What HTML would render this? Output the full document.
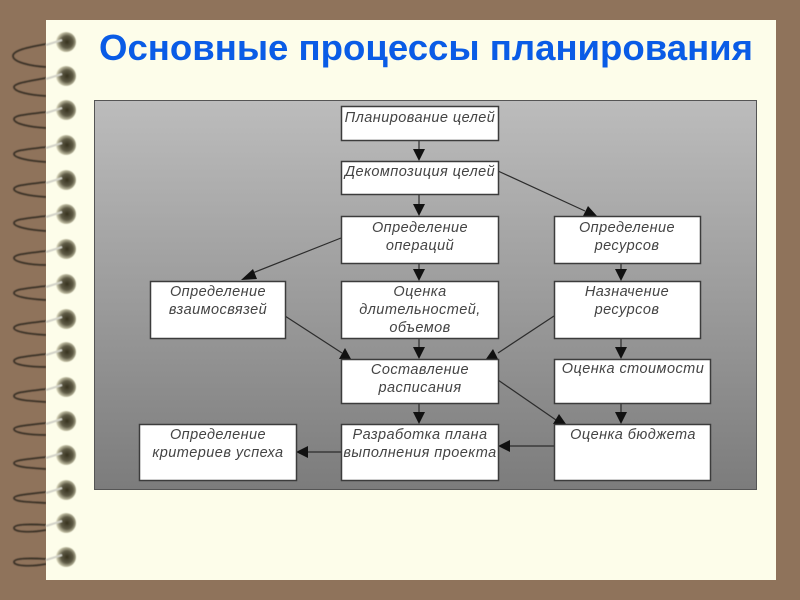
<!DOCTYPE html>
<html><head><meta charset="utf-8"><style>
html,body{margin:0;padding:0;background:#8f735b}
svg{display:block}
text{font-family:"Liberation Sans","DejaVu Sans",sans-serif}
.b{fill:#fff;stroke:#3c3c3c;stroke-width:1.5}
.t{font-size:14.5px;font-style:italic;fill:#444;text-anchor:middle;letter-spacing:.45px}
.l{stroke:#2c2c2c;stroke-width:1.2;fill:none}
.a{fill:#111}
.d{fill:none;stroke:#3a3028;stroke-width:1.8}
.w{fill:none;stroke:#d2d2c8;stroke-width:2.2}
</style></head><body>
<svg width="800" height="600" viewBox="0 0 800 600" xmlns="http://www.w3.org/2000/svg">
<defs>
<linearGradient id="g" x1="0" y1="0" x2="0" y2="1"><stop offset="0" stop-color="#bcbcbc"/><stop offset="1" stop-color="#7c7c7c"/></linearGradient>
<radialGradient id="h" cx=".55" cy=".5" r=".55"><stop offset="0" stop-color="#37321f"/><stop offset=".55" stop-color="#5f5b46"/><stop offset=".85" stop-color="#b5b298"/><stop offset="1" stop-color="#e8e6cc"/></radialGradient>
<g id="c"><circle cx="66" cy="0" r="10" fill="url(#h)"/><path class="w" d="M46 3L62 -2"/></g>
<filter id="f"><feGaussianBlur stdDeviation=".5"/></filter>
</defs>
<rect width="800" height="600" fill="#8f735b"/>
<g filter="url(#f)">
<path class="d" d="M46 44C30 47 13 50 13 56C13 62 30 66 46 67"/>
<path class="d" d="M46 78C30 81 14 83 14 87C14 92 30 95 46 96"/>
<path class="d" d="M46 112C30 114 14 115 14 119C14 124 30 127 46 128"/>
<path class="d" d="M46 147C30 149 14 150 14 154C14 158 30 161 46 162"/>
<path class="d" d="M46 182C30 184 14 185 14 189C14 193 30 196 46 197"/>
<path class="d" d="M46 216C30 218 14 219 14 223C14 227 30 230 46 231"/>
<path class="d" d="M46 251C30 253 14 254 14 258C14 262 30 265 46 265"/>
<path class="d" d="M46 286C30 288 14 289 14 293C14 297 30 299 46 300"/>
<path class="d" d="M46 321C30 323 14 324 14 328C14 332 30 334 46 335"/>
<path class="d" d="M46 354C30 356 14 357 14 361C14 365 30 367 46 367"/>
<path class="d" d="M46 389C30 391 14 392 14 396C14 400 30 401 46 402"/>
<path class="d" d="M46 423C30 425 14 426 14 429C14 433 30 435 46 435"/>
<path class="d" d="M46 457C30 459 14 460 14 463C14 467 30 468 46 469"/>
<path class="d" d="M46 492C30 494 14 495 14 498C14 502 30 502 46 503"/>
<path class="d" d="M46 525C30 524 14 524 14 528C14 532 30 533 46 530"/>
<path class="d" d="M46 559C30 558 14 558 14 562C14 566 30 567 46 564"/>
</g>
<rect x="46" y="20" width="730" height="560" fill="#fdfdea"/>
<g filter="url(#f)">
<use href="#c" y="42"/><use href="#c" y="76"/><use href="#c" y="110"/><use href="#c" y="145"/>
<use href="#c" y="180"/><use href="#c" y="214"/><use href="#c" y="249"/><use href="#c" y="284"/>
<use href="#c" y="319"/><use href="#c" y="352"/><use href="#c" y="387"/><use href="#c" y="421"/>
<use href="#c" y="455"/><use href="#c" y="490"/><use href="#c" y="523"/><use href="#c" y="557"/>
</g>
<text x="99" y="60" font-size="36" font-weight="bold" fill="#0a5ce6" textLength="654" lengthAdjust="spacingAndGlyphs">Основные процессы планирования</text>
<rect x="94.500" y="100.500" width="662" height="389" fill="url(#g)" stroke="#555" stroke-width="1"/>

<path class="l" d="M419 140V150M419 194V205M419 263V270M419 338V348M419 403V413M621 263V270M621 338V348M621 403V413M308 452H341M510 446H554M498 171L585 211M341 238L250 274M285 316L342 353M554 316L498 353M498 380L556 420"/>
<path class="a" d="M413 149H425L419 161ZM413 204H425L419 216ZM413 269H425L419 281ZM413 347H425L419 359ZM413 412H425L419 424ZM615 269H627L621 281ZM615 347H627L621 359ZM615 412H627L621 424ZM308 446V458L296 452ZM510 440V452L498 446ZM597 216L583 216L588 206ZM241 280L253 269L257 279ZM351 359L339 359L345 348ZM486 359L498 359L493 349ZM566 424L553 424L559 414Z"/>

<rect class="b" x="341.500" y="106.500" width="157" height="34"/><text class="t" x="420" y="122">Планирование целей</text>
<rect class="b" x="341.500" y="161.500" width="157" height="33"/><text class="t" x="420" y="176">Декомпозиция целей</text>
<rect class="b" x="341.500" y="216.500" width="157" height="47"/><text class="t" x="420" y="232">Определение</text><text class="t" x="420" y="250">операций</text>
<rect class="b" x="554.500" y="216.500" width="146" height="47"/><text class="t" x="627" y="232">Определение</text><text class="t" x="627" y="250">ресурсов</text>
<rect class="b" x="150.500" y="281.500" width="135" height="57"/><text class="t" x="218" y="296">Определение</text><text class="t" x="218" y="314">взаимосвязей</text>
<rect class="b" x="341.500" y="281.500" width="157" height="57"/><text class="t" x="420" y="296">Оценка</text><text class="t" x="420" y="314">длительностей,</text><text class="t" x="420" y="332">объемов</text>
<rect class="b" x="554.500" y="281.500" width="146" height="57"/><text class="t" x="627" y="296">Назначение</text><text class="t" x="627" y="314">ресурсов</text>
<rect class="b" x="341.500" y="359.500" width="157" height="44"/><text class="t" x="420" y="374">Составление</text><text class="t" x="420" y="392">расписания</text>
<rect class="b" x="554.500" y="359.500" width="156" height="44"/><text class="t" x="633" y="373">Оценка стоимости</text>
<rect class="b" x="139.500" y="424.500" width="157" height="56"/><text class="t" x="218" y="439">Определение</text><text class="t" x="218" y="457">критериев успеха</text>
<rect class="b" x="341.500" y="424.500" width="157" height="56"/><text class="t" x="420" y="439">Разработка плана</text><text class="t" x="420" y="457">выполнения проекта</text>
<rect class="b" x="554.500" y="424.500" width="156" height="56"/><text class="t" x="633" y="439">Оценка бюджета</text>
</svg>
</body></html>
